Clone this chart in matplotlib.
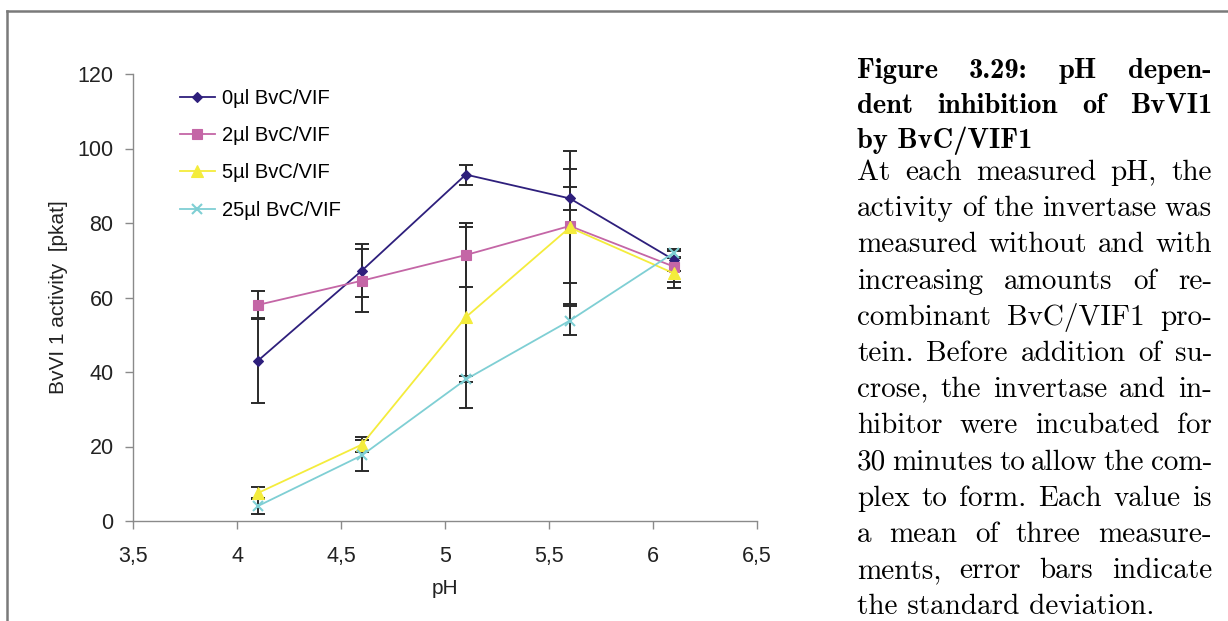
import matplotlib
matplotlib.use("Agg")
import matplotlib.pyplot as plt
from matplotlib.lines import Line2D
from matplotlib.ticker import FuncFormatter

ph = [4.1, 4.6, 5.1, 5.6, 6.1]
series_labels = ["0µl BvC/VIF", "2µl BvC/VIF", "5µl BvC/VIF", "25µl BvC/VIF"]
activity = [
    [43.0, 67.2, 93.0, 86.6, 70.1],
    [58.0, 64.5, 71.4, 79.2, 68.3],
    [7.5, 20.5, 54.7, 78.8, 66.5],
    [4.0, 17.6, 38.0, 53.8, 72.0],
]
std_dev = [
    [11.4, 7.1, 2.7, 3.1, 3.0],
    [3.8, 8.4, 8.7, 15.4, 4.2],
    [1.5, 2.0, 24.3, 20.6, 4.0],
    [2.1, 4.2, 0.8, 3.8, 1.0],
]
colors = ["#2e1f7c", "#c466a6", "#f4ec3c", "#7fcfd4"]
markers = ["D", "s", "^", "x"]
marker_sizes = [5, 7, 8, 7]

caption_title = [
    "Figure 3.29: pH depen-",
    "dent inhibition of BvVI1",
    "by BvC/VIF1",
]
caption_body = [
    "At each measured pH, the",
    "activity of the invertase was",
    "measured without and with",
    "increasing amounts of re-",
    "combinant BvC/VIF1 pro-",
    "tein. Before addition of su-",
    "crose, the invertase and in-",
    "hibitor were incubated for",
    "30 minutes to allow the com-",
    "plex to form. Each value is",
    "a mean of three measure-",
    "ments, error bars indicate",
    "the standard deviation.",
]

sans = ["Liberation Sans", "DejaVu Sans"]
plt.rcParams["font.family"] = sans

W, H = 1228, 621
fig = plt.figure(figsize=(W / 100, H / 100), dpi=100)
fig.patch.set_facecolor("white")

# frame around the figure (only top and left are visible in the crop)
fig.add_artist(Line2D([7 / W, 7 / W], [0, 1 - 11 / H], color="#7a7a7a", lw=1.8))
fig.add_artist(Line2D([7 / W, 1], [1 - 11 / H, 1 - 11 / H], color="#7a7a7a", lw=1.8))

ax = fig.add_axes([133 / W, 1 - 521 / H, 624 / W, 447 / H])

for i in range(len(activity)):
    ax.errorbar(ph, activity[i], yerr=std_dev[i], fmt="none", ecolor="#2a2a2a",
                elinewidth=1.4, capsize=5, capthick=1.4, zorder=3)
for i in range(len(activity)):
    ax.plot(ph, activity[i], color=colors[i], marker=markers[i], ms=marker_sizes[i],
            mew=1.5 if markers[i] == "x" else 0.8, lw=1.3, label=series_labels[i], zorder=4)

ax.set_xlim(3.5, 6.5)
ax.set_ylim(0, 120)
ax.set_xticks([3.5, 4, 4.5, 5, 5.5, 6, 6.5])
ax.set_yticks(range(0, 121, 20))
ax.xaxis.set_major_formatter(FuncFormatter(lambda v, p: ("%g" % v).replace(".", ",")))
for s in ["top", "right"]:
    ax.spines[s].set_visible(False)
for s in ["left", "bottom"]:
    ax.spines[s].set_color("#8a8a8a")
    ax.spines[s].set_linewidth(1.0)
ax.tick_params(direction="out", length=6, width=1.0, color="#8a8a8a",
               labelsize=15.5, labelcolor="#222222")
ax.tick_params(axis="y", pad=8)
ax.tick_params(axis="x", pad=12)
ax.set_xlabel("pH", fontsize=15, color="#222222")
ax.set_ylabel("BvVI 1 activity  [pkat]", fontsize=15, color="#222222")
ax.xaxis.set_label_coords(0.5, -0.13)
ax.yaxis.set_label_coords(-0.104, 0.5)

ax.legend(loc="upper left", bbox_to_anchor=(0.075, 0.966), frameon=False,
          prop={"size": 14.5}, borderaxespad=0,
          handlelength=1.75, handletextpad=0.35, labelspacing=0.9, borderpad=0)

# justified caption on the right
renderer = fig.canvas.get_renderer()


def put_line(text, x0, x1, y, justify, family, size):
    if not justify:
        fig.text(x0 / W, 1 - y / H, text, family=family, fontsize=size, va="baseline")
        return
    words = text.split(" ")
    widths = []
    for w in words:
        t = fig.text(0, 0, w, family=family, fontsize=size)
        widths.append(t.get_window_extent(renderer).width)
        t.remove()
    gap = (x1 - x0 - sum(widths)) / (len(words) - 1)
    x = x0
    for w, wd in zip(words, widths):
        fig.text(x / W, 1 - y / H, w, family=family, fontsize=size, va="baseline")
        x += wd + gap


left, right = 857, 1212
for k, line in enumerate(caption_title):
    put_line(line, left, right, 78 + 35 * k, k < len(caption_title) - 1, "cmb10", 20.5)
for k, line in enumerate(caption_body):
    put_line(line, left, right, 180 + 36.2 * k, k < len(caption_body) - 1, "cmr10", 21)

fig.savefig("out.png", dpi=100)
